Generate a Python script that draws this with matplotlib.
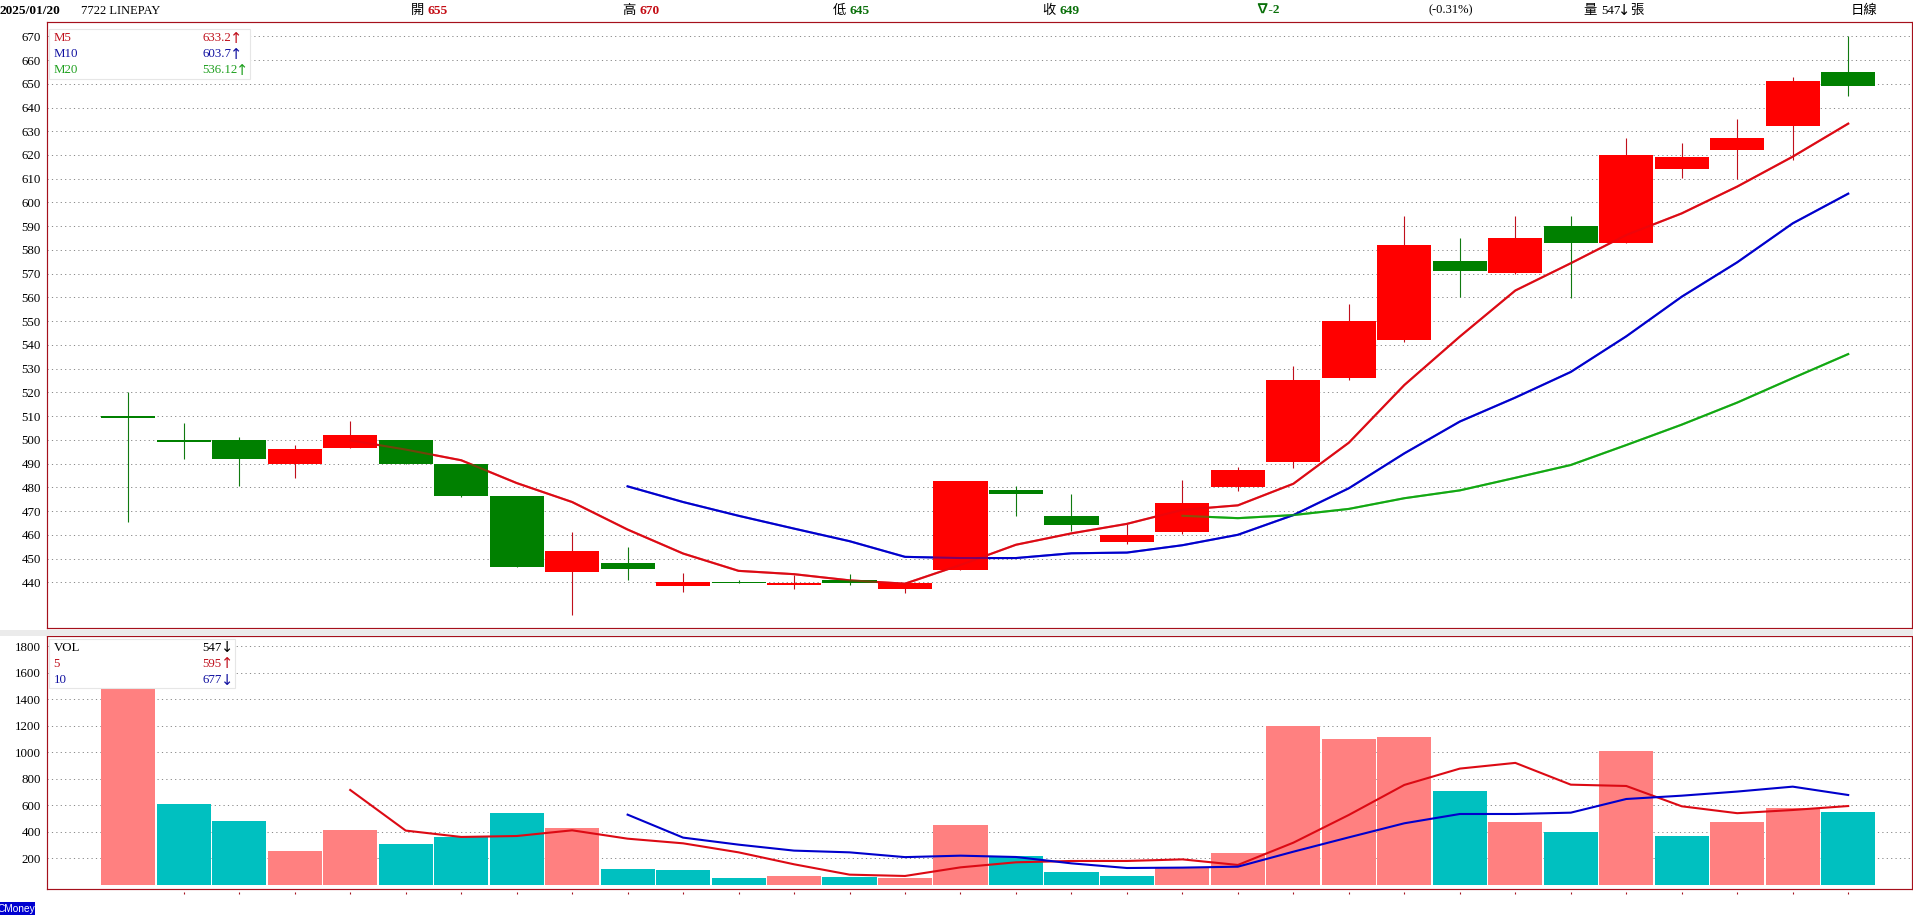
import matplotlib
matplotlib.use("Agg")
import matplotlib.pyplot as plt
from matplotlib.patches import Rectangle

LATIN = ['Liberation Serif', 'Noto Sans CJK TC', 'DejaVu Sans']
plt.rcParams['font.family'] = LATIN

W, H = 1913, 921

opens = [509.9, 499.9, 500, 490, 496.5, 500, 490, 476.5, 444.5, 448, 438.5, 440, 438.7, 441, 437,
         445, 479, 468, 457, 461.2, 480.2, 490.7, 526, 542, 575.3, 570.3, 590, 583, 614.1, 622.1, 632.4, 655]
closes = [509.1, 499.1, 492, 496, 502, 490, 476.5, 446.5, 453, 445.5, 440, 439.6, 439.5, 439.5, 439.5,
          482.5, 477, 464.2, 460, 473.4, 487.3, 525.2, 550, 582, 571.1, 585, 583, 620, 619.2, 627.2, 651.2, 649]
highs = [520, 507, 501, 498, 508, 500, 490, 476.5, 461, 455, 444, 441, 443, 443.5, 439.5,
         482.5, 480.5, 477.2, 464.5, 483, 488.7, 531, 557.2, 594.3, 585, 594.3, 594.3, 627.2, 625, 635, 652.9, 670]
lows = [465.4, 492, 480.5, 484, 496.5, 490, 476, 446.5, 426, 441, 436, 439.6, 437, 439, 435.5,
        445, 468, 461.7, 456.3, 460.2, 478.6, 488.3, 525.2, 541.4, 560.2, 570, 559.6, 583, 610.3, 610, 618, 645]

ma5 = [None] * 4 + [499.8, 495.9, 491.4, 481.8, 473.8, 462.2, 452.1, 444.8, 443.4, 440.8, 439.4, 447.3,
                    455.8, 460.6, 464.6, 470.5, 472.4, 481.5, 498.8, 523.1, 543.5, 562.9, 574.4, 586.3,
                    595.4, 606.7, 619.3, 633.2]
ma10 = [None] * 9 + [480.4, 473.8, 468, 462.6, 457.3, 450.7, 450.2, 450.2, 452.2, 452.5, 455.6, 460, 468.3,
                     479.6, 494.3, 507.7, 517.8, 528.6, 543.6, 560.3, 574.8, 591.2, 603.7]
ma20 = [None] * 19 + [468, 467, 468.3, 470.9, 475.4, 478.7, 484, 489.4, 497.8, 506.4, 515.7, 526, 536.12]

volume = [1477, 610, 482, 256, 415, 309, 362, 543, 430, 121, 113, 53, 68, 60, 53, 452,
          219, 98, 68, 125, 241, 1196, 1100, 1116, 709, 475, 399, 1010, 369, 475, 580, 547]
vol_up = [1, 0, 0, 1, 1, 0, 0, 0, 1, 0, 0, 0, 1, 0, 1, 1,
          0, 0, 0, 1, 1, 1, 1, 1, 0, 1, 0, 1, 0, 1, 1, 0]
vol_ma5 = [None] * 4 + [716, 410, 362, 369, 412, 349, 314, 246, 156, 78, 68, 133, 171, 181, 181, 193, 151,
                        319, 528, 754, 877, 920, 756, 746, 593, 541, 565, 595]
vol_ma10 = [None] * 9 + [530, 357, 304, 259, 246, 210, 221, 211, 163, 128, 131, 138, 251, 359, 465, 535,
                         535, 545, 648, 673, 704, 741, 678]

price_ticks = list(range(440, 680, 10))
vol_ticks = list(range(200, 2000, 200))

FRAME = '#a5101c'
RED_LINE = '#dc0a14'
BLUE_LINE = '#0000cc'
GREEN_LINE = '#12a812'
UP = '#ff0000'
DOWN = '#008000'
UP_WICK = '#c0101c'
DOWN_WICK = '#107a10'
PINK = '#ff8080'
TEAL = '#00c0c0'
LW = 1.5


def fx(px):
    return px / W


def fy(py):
    return 1 - py / H


fig = plt.figure(figsize=(W / 100, H / 100), dpi=100, facecolor='white')
fig.patches.append(Rectangle((0, fy(635.5)), 1, 5.5 / H, transform=fig.transFigure,
                             facecolor='#ebebeb', edgecolor='none'))

L, R = 46.5, 1912
ax = fig.add_axes([fx(L), fy(628.3), fx(R - L), (628.3 - 22.3) / H])
vx = fig.add_axes([fx(L), fy(889.3), fx(R - L), (889.3 - 636) / H])

xs = list(range(len(opens)))
XLIM = (-1.474, 32.15)


def style(a, ticks, ylim):
    a.set_xlim(*XLIM)
    a.set_ylim(*ylim)
    a.set_yticks(ticks)
    a.set_xticks([])
    a.tick_params(axis='y', length=0, pad=4, labelsize=9.3, colors='black')
    a.yaxis.grid(True, color='#8c8c8c', linewidth=0.72, linestyle=(0, (1.2, 3.2)))
    a.set_axisbelow(True)
    for s in a.spines.values():
        s.set_color(FRAME)
        s.set_linewidth(0.85)


style(ax, price_ticks, (420.6, 675.9))
style(vx, vol_ticks, (-32.4, 1876))

# moving averages under the candles, and again half-transparent above them
for z, a_ in ((2, 1.0), (5, 0.5)):
    ax.plot(xs, [float('nan') if v is None else v for v in ma5], color=RED_LINE, lw=LW, zorder=z, alpha=a_)
    ax.plot(xs, [float('nan') if v is None else v for v in ma10], color=BLUE_LINE, lw=LW, zorder=z, alpha=a_)
    ax.plot(xs, [float('nan') if v is None else v for v in ma20], color=GREEN_LINE, lw=LW, zorder=z, alpha=a_)

for i in xs:
    up = closes[i] > opens[i]
    ax.vlines(i, lows[i], highs[i], color=UP_WICK if up else DOWN_WICK, lw=0.8, zorder=3)
    ax.bar(i, abs(closes[i] - opens[i]), bottom=min(opens[i], closes[i]), width=0.975,
           color=UP if up else DOWN, linewidth=0, zorder=4)

vx.bar(xs, volume, width=0.975, color=[PINK if u else TEAL for u in vol_up], linewidth=0, zorder=3)
vx.plot(xs, [float('nan') if v is None else v for v in vol_ma5], color=RED_LINE, lw=LW, zorder=4)
vx.plot(xs, [float('nan') if v is None else v for v in vol_ma10], color=BLUE_LINE, lw=LW, zorder=5)

# date ticks detached below the lower frame
vx.vlines(xs[1:], -0.019, -0.011, transform=vx.get_xaxis_transform(), color=FRAME, lw=0.8, clip_on=False)


def T(px, py, s, color='black', size=9.3, weight='normal', ha='left', zorder=10):
    return fig.text(fx(px), fy(py), s, color=color, fontsize=size, fontweight=weight, ha=ha, va='center',
                    zorder=zorder)


def A(px, py, s, color='black'):
    return fig.text(fx(px), fy(py), s, color=color, fontsize=10.5, ha='center', va='center', zorder=10,
                    family=['DejaVu Sans'])


def box(x0, y0, x1, y1):
    fig.add_artist(Rectangle((fx(x0), fy(y1)), (x1 - x0) / W, (y1 - y0) / H, transform=fig.transFigure,
                             facecolor='white', edgecolor='#e6e6e6', linewidth=0.8, zorder=8))


box(49, 29.3, 250, 78.7)
T(53.5, 38.3, 'M5', '#c0101c')
T(53.5, 54.3, 'M10', '#1010a0')
T(53.5, 70.3, 'M20', '#1fa01f')
T(202.4, 38.3, '633.2', '#c0101c')
T(202.4, 54.3, '603.7', '#1010a0')
T(202.4, 70.3, '536.12', '#1fa01f')
A(236, 38.3, '↑', '#c0101c')
A(236, 54.3, '↑', '#1010a0')
A(242, 70.3, '↑', '#1fa01f')

box(49, 639.3, 235, 688.3)
T(53.5, 648, 'VOL', 'black')
T(53.5, 664, '5', '#c0101c')
T(53.5, 680, '10', '#1010a0')
T(202.4, 648, '547', 'black')
T(202.4, 664, '595', '#c0101c')
T(202.4, 680, '677', '#1010a0')
A(227.5, 648, '↓', 'black')
A(227.5, 664, '↑', '#c0101c')
A(227.5, 680, '↓', '#1010a0')

# header row
HY = 10.7
HRED, HGREEN = '#c40c14', '#0a700a'
T(0, HY, '2025/01/20', 'black', 9.6, 'bold')
T(81, HY, '7722 LINEPAY', 'black', 9.0)
T(411, HY, '開', 'black', 9.6)
T(428, HY, '655', HRED, 9.6, 'bold')
T(622.5, HY, '高', 'black', 9.6)
T(640, HY, '670', HRED, 9.6, 'bold')
T(833, HY, '低', 'black', 9.6)
T(849.4, HY, '645', HGREEN, 9.6, 'bold')
T(1042, HY, '收', 'black', 9.6)
T(1059.6, HY, '649', HGREEN, 9.6, 'bold')
T(1255, HY, '∇-2', HGREEN, 9.6, 'bold')
T(1428.6, HY, '(-0.31%)', 'black', 9.0)
T(1583.6, HY, '量', 'black', 9.6)
T(1601, HY, '547', 'black', 9.3)
A(1624, HY, '↓', 'black')
T(1630, HY, '張', 'black', 9.6)
T(1851, HY, '日線', 'black', 9.6)

# source badge
fig.add_artist(Rectangle((0, fy(915)), 35 / W, 13.3 / H, transform=fig.transFigure,
                         facecolor='#0000d0', edgecolor='none', zorder=9))
fig.text(fx(-2), fy(908.5), 'CMoney', color='white', fontsize=7.3, family=['Liberation Sans', 'DejaVu Sans'],
         ha='left', va='center', zorder=10)

fig.savefig('out.png', dpi=100, facecolor='white')
